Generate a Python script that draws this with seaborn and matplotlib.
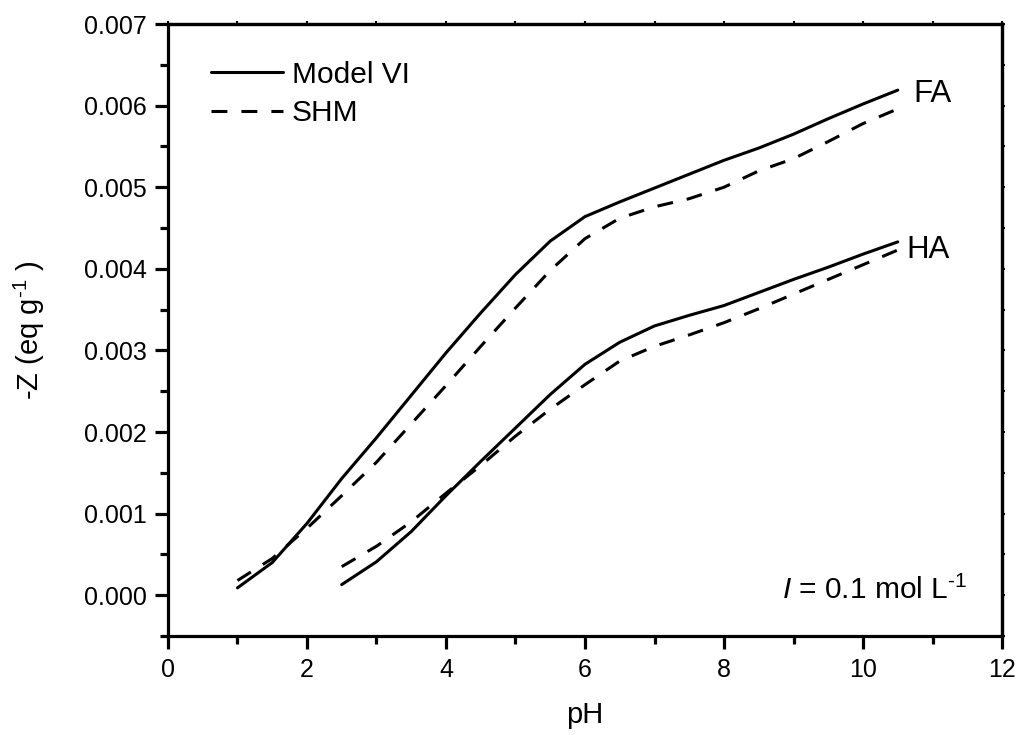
import numpy as np
import pandas as pd
import matplotlib
matplotlib.use("Agg")
import matplotlib.pyplot as plt
import seaborn as sns
from matplotlib.ticker import MultipleLocator, FormatStrFormatter

# ---- data ----
ph_fa = [1.0, 1.5, 2.0, 2.5, 3.0, 3.5, 4.0, 4.5, 5.0, 5.5, 6.0, 6.5, 7.0, 7.5, 8.0, 8.5, 9.0, 9.5, 10.0, 10.5]
fa_model6 = [0.00009, 0.00040, 0.00088, 0.00143, 0.00193, 0.00245, 0.00297, 0.00346, 0.00393, 0.00434,
             0.00464, 0.00482, 0.00499, 0.00516, 0.00533, 0.00548, 0.00565, 0.00584, 0.00602, 0.00619]
fa_shm = [0.00018, 0.00045, 0.00082, 0.00122, 0.00163, 0.00210, 0.00257, 0.00305, 0.00352, 0.00398,
          0.00437, 0.00462, 0.00476, 0.00486, 0.00500, 0.00520, 0.00535, 0.00556, 0.00578, 0.00596]

ph_ha = [2.5, 3.0, 3.5, 4.0, 4.5, 5.0, 5.5, 6.0, 6.5, 7.0, 7.5, 8.0, 8.5, 9.0, 9.5, 10.0, 10.5]
ha_model6 = [0.00013, 0.00041, 0.00078, 0.00122, 0.00164, 0.00205, 0.00246, 0.00283, 0.00310, 0.00330,
             0.00343, 0.00355, 0.00371, 0.00387, 0.00402, 0.00418, 0.00433]
ha_shm = [0.00035, 0.00060, 0.00090, 0.00125, 0.00159, 0.00195, 0.00228, 0.00258, 0.00287, 0.00305,
          0.00319, 0.00334, 0.00351, 0.00369, 0.00387, 0.00405, 0.00423]

series_labels = ["Model VI", "SHM"]
curve_labels = ["FA", "HA"]
x_label = "pH"
y_label = r"-Z (eq g$^{\text{-1}}$ )"
note_text = r"$\mathit{I}$ = 0.1 mol L$^{\text{-1}}$"

# ---- style ----
sns.set_style("ticks")
plt.rcParams["font.family"] = ["Liberation Sans", "DejaVu Sans"]
plt.rcParams["mathtext.fontset"] = "custom"
plt.rcParams["mathtext.rm"] = "Liberation Sans"
plt.rcParams["mathtext.it"] = "Liberation Sans:italic"
plt.rcParams["mathtext.default"] = "regular"
for k in ("text.color", "axes.labelcolor", "xtick.color", "ytick.color", "axes.edgecolor"):
    plt.rcParams[k] = "black"

fig = plt.figure(figsize=(10.23, 7.35), dpi=100)
ax = fig.add_axes([0.1642, 0.1347, 0.8153, 0.8326])

lw = 2.2
dash = (5.2, 4.6)

sns.lineplot(x=ph_fa, y=fa_model6, color="black", lw=lw, label=series_labels[0], ax=ax)
sns.lineplot(x=ph_fa, y=fa_shm, color="black", lw=lw, label=series_labels[1], ax=ax)
sns.lineplot(x=ph_ha, y=ha_model6, color="black", lw=lw, label="_nolegend_", ax=ax)
sns.lineplot(x=ph_ha, y=ha_shm, color="black", lw=lw, label="_nolegend_", ax=ax)
lines = ax.get_lines()
lines[1].set_dashes(dash)
lines[3].set_dashes(dash)

ax.set_xlim(0, 12)
ax.set_ylim(-0.0005, 0.007)
ax.xaxis.set_major_locator(MultipleLocator(2))
ax.xaxis.set_minor_locator(MultipleLocator(1))
ax.yaxis.set_major_locator(MultipleLocator(0.001))
ax.yaxis.set_minor_locator(MultipleLocator(0.0005))
ax.yaxis.set_major_formatter(FormatStrFormatter("%.3f"))

for s in ax.spines.values():
    s.set_linewidth(2.3)
    s.set_visible(True)

ax.tick_params(which="major", direction="out", length=9.5, width=2.3, labelsize=18, pad=6,
               top=False, right=False)
ax.tick_params(which="minor", direction="out", length=5.5, width=2.3, top=False, right=False)

# small ticks on top/right via secondary axes
for side in ("top", "right"):
    if side == "top":
        sec = ax.secondary_xaxis("top")
        sec.xaxis.set_major_locator(MultipleLocator(1))
    else:
        sec = ax.secondary_yaxis("right")
        sec.yaxis.set_major_locator(MultipleLocator(0.0005))
    sec.tick_params(which="major", direction="out", length=2.5, width=1.5, labelsize=0,
                    labeltop=False, labelright=False, labelbottom=False, labelleft=False)
    sec.spines[side].set_linewidth(2.3)

ax.set_xlabel(x_label, fontsize=21, labelpad=14)
ax.set_ylabel(y_label, fontsize=21, labelpad=26)

leg = ax.legend(loc="upper left", bbox_to_anchor=(0.052, 0.94), frameon=False, fontsize=21.5,
                handlelength=2.4, handletextpad=0.3, labelspacing=0.35, borderpad=0, borderaxespad=0)

ax.text(10.72, 0.00604, curve_labels[0], fontsize=22.5, ha="left", va="baseline")
ax.text(10.63, 0.00413, curve_labels[1], fontsize=22.5, ha="left", va="baseline")
ax.text(8.83, -0.00005, note_text, fontsize=21.5, ha="left", va="baseline")

fig.savefig("out.png", dpi=100)
